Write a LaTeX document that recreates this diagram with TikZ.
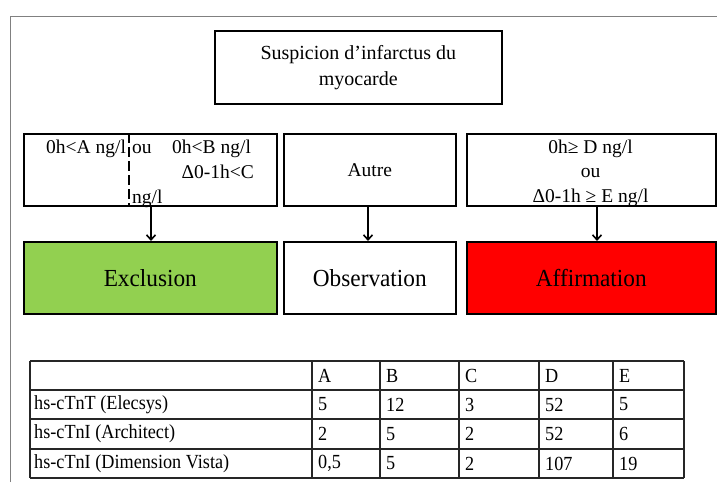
\documentclass[tikz,border=0pt]{standalone}
\usepackage{fontspec}
\setmainfont{Liberation Serif}
\newfontfamily\tabfont[FakeStretch=0.91]{Liberation Serif}
\newfontfamily\bigfont[FakeStretch=0.95]{Liberation Serif}
\usetikzlibrary{arrows.meta}
\definecolor{exgreen}{HTML}{92D050}
\definecolor{afred}{HTML}{FF0000}
\begin{document}
\begin{tikzpicture}[x=1pt,y=-1pt,
  box/.style={draw=black, line width=1.6pt, inner sep=0pt, anchor=north west},
  arr/.style={line width=1.5pt, -{Straight Barb[length=5pt,width=9pt,line width=1.6pt]}},
  txt/.style={font=\fontsize{19.5}{24.5}\selectfont, inner sep=0pt, align=center},
  big/.style={font=\bigfont\fontsize{24.5}{28}\selectfont, inner sep=0pt},
  cell/.style={font=\tabfont\fontsize{20}{22}\selectfont, anchor=west, inner sep=0pt},
  frame/.style={draw=black!50, line width=1.5pt},
  grid/.style={draw=black!85, line width=1.2pt}]
\useasboundingbox (0,0) rectangle (717,482);
% outer frame
\draw[frame] (10.5,482) -- (10.5,16.5) -- (717,16.5);
% top box
\node[box, minimum width=287pt, minimum height=73pt] (top) at (214,30) {};
\node[txt, font=\fontsize{20}{26}\selectfont] (toptxt) at (top.center) {Suspicion d’infarctus du\\myocarde};
% row 2
\node[box, minimum width=253pt, minimum height=72pt] (L) at (23,133) {};
\node[box, minimum width=172pt, minimum height=72pt] (M) at (283,133) {};
\node[box, minimum width=249pt, minimum height=72pt] (R) at (466,133) {};
% row 3
\node[box, fill=exgreen, minimum width=253pt, minimum height=72pt] (Ex) at (23,241) {};
\node[box, fill=white, minimum width=172pt, minimum height=72pt] (Ob) at (283,241) {};
\node[box, fill=afred, minimum width=249pt, minimum height=72pt] (Af) at (466,241) {};
\node[big] (Extxt) at (Ex.center) {Exclusion};
\node[big] (Obtxt) at (Ob.center) {Observation};
\node[big] (Aftxt) at (Af.center) {Affirmation};
% left box contents
\coordinate (dx) at (129,0);
\draw[line width=2.6pt, dash pattern=on 10pt off 4pt] (L.north -| dx) -- (L.south -| dx);
\node[txt, anchor=base west] (la) at (46,153) {0h<A ng/l};
\node[txt, anchor=base west] (lou) at (132,153) {ou};
\node[txt, anchor=base west] (lb) at (172,153) {0h<B ng/l};
\node[txt, anchor=base east] (lc) at (254,178) {Δ0-1h<C};
\node[txt, anchor=base west] (lng) at (132,203) {ng/l};
% middle box
\node[txt] (mt) at (M.center) {Autre};
% right box
\node[txt, anchor=base] (r1) at (590.5,153) {0h≥ D ng/l};
\node[txt, anchor=base] (r2) at (590.5,177.5) {ou};
\node[txt, anchor=base] (r3) at (590.5,202) {Δ0-1h ≥ E ng/l};
% arrows
\coordinate (a1) at (151,0);
\coordinate (a2) at (368,0);
\coordinate (a3) at (597,0);
\draw[arr] (L.south -| a1) -- (Ex.north -| a1);
\draw[arr] (M.south -| a2) -- (Ob.north -| a2);
\draw[arr] (R.south -| a3) -- (Af.north -| a3);
% table grid
\foreach \yy in {361,390,419,449,478} \draw[grid] (30,\yy) -- (684,\yy);
\foreach \xx in {30,312,380,459,539,613,684} \draw[grid] (\xx,361) -- (\xx,478);
% table header
\node[cell] (hA) at (318,375.5) {A};
\node[cell] (hB) at (386,375.5) {B};
\node[cell] (hC) at (465,375.5) {C};
\node[cell] (hD) at (545,375.5) {D};
\node[cell] (hE) at (619,375.5) {E};
% row 1
\node[cell] (r1n) at (34,404.5) {hs-cTnT (Elecsys)};
\node[cell] (r1a) at (318,404.5) {5};
\node[cell] (r1b) at (386,404.5) {12};
\node[cell] (r1c) at (465,404.5) {3};
\node[cell] (r1d) at (545,404.5) {52};
\node[cell] (r1e) at (619,404.5) {5};
% row 2
\node[cell] (r2n) at (34,434) {hs-cTnI (Architect)};
\node[cell] (r2a) at (318,434) {2};
\node[cell] (r2b) at (386,434) {5};
\node[cell] (r2c) at (465,434) {2};
\node[cell] (r2d) at (545,434) {52};
\node[cell] (r2e) at (619,434) {6};
% row 3
\node[cell] (r3n) at (34,463.5) {hs-cTnI (Dimension Vista)};
\node[cell] (r3a) at (318,463.5) {0,5};
\node[cell] (r3b) at (386,463.5) {5};
\node[cell] (r3c) at (465,463.5) {2};
\node[cell] (r3d) at (545,463.5) {107};
\node[cell] (r3e) at (619,463.5) {19};
\end{tikzpicture}
\end{document}
